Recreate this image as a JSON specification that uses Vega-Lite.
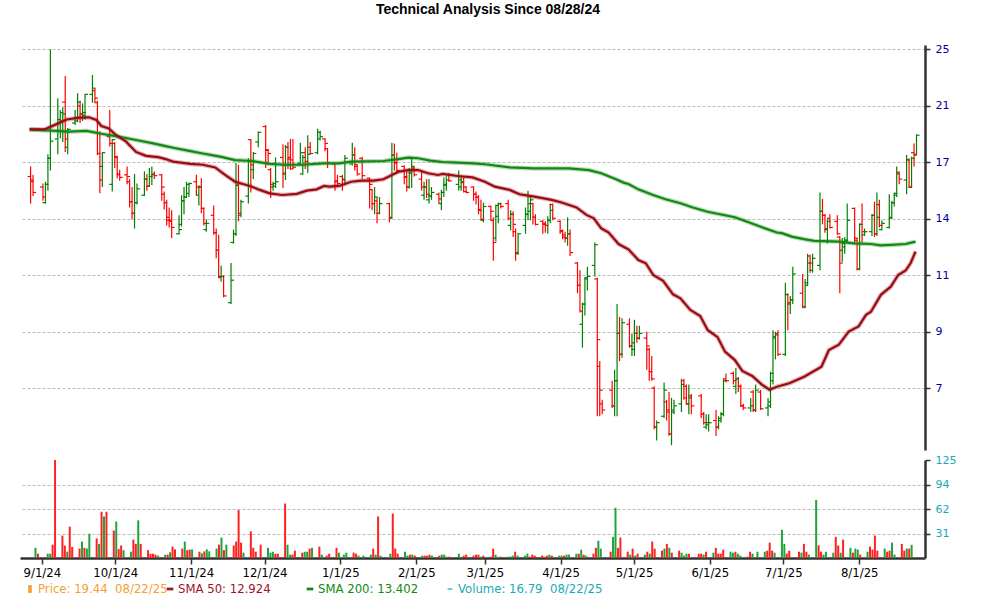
{
"$schema": "https://vega.github.io/schema/vega-lite/v6.json",
"padding": {"left": 20, "top": 3, "right": 0, "bottom": 0},
"background": "white",
"title": {"text": "Technical Analysis Since 08/28/24", "font": "Liberation Sans", "fontSize": 14, "fontWeight": "bold", "color": "#000000", "anchor": "middle", "offset": 26},
"config": {"view": {"stroke": null}},
"spacing": 10,
"bounds": "flush",
"datasets": {
"ohlc": [
{"t":"2024-08-29","o":15.5,"h":16.1,"l":14.0,"c":15.2,"v":13,"vd":"u"},
{"t":"2024-08-30","o":15.3,"h":15.6,"l":14.4,"c":14.6,"v":5.5,"vd":"d"},
{"t":"2024-09-03","o":14.9,"h":15.1,"l":14.15,"c":14.35,"v":5.5,"vd":"u"},
{"t":"2024-09-04","o":14.05,"h":15.2,"l":14.0,"c":15.05,"v":5.5,"vd":"u"},
{"t":"2024-09-05","o":15.05,"h":16.85,"l":14.7,"c":16.6,"v":17,"vd":"d"},
{"t":"2024-09-06","o":16.6,"h":25.0,"l":15.85,"c":17.7,"v":125,"vd":"d"},
{"t":"2024-09-09","o":17.85,"h":20.8,"l":16.85,"c":19.2,"v":28.6,"vd":"d"},
{"t":"2024-09-10","o":19.2,"h":19.9,"l":17.9,"c":19.7,"v":15.8,"vd":"d"},
{"t":"2024-09-11","o":19.1,"h":20.1,"l":17.65,"c":19.6,"v":8.1,"vd":"u"},
{"t":"2024-09-12","o":20.5,"h":22.6,"l":17.0,"c":17.85,"v":40,"vd":"d"},
{"t":"2024-09-13","o":17.3,"h":18.6,"l":16.85,"c":18.5,"v":14,"vd":"d"},
{"t":"2024-09-16","o":18.95,"h":19.9,"l":18.8,"c":19.3,"v":12,"vd":"d"},
{"t":"2024-09-17","o":19.1,"h":21.2,"l":19.0,"c":20.5,"v":21,"vd":"u"},
{"t":"2024-09-18","o":20.2,"h":20.6,"l":18.95,"c":19.6,"v":13,"vd":"d"},
{"t":"2024-09-19","o":19.6,"h":20.4,"l":19.1,"c":19.7,"v":12,"vd":"u"},
{"t":"2024-09-20","o":19.5,"h":21.15,"l":19.2,"c":21.1,"v":31,"vd":"u"},
{"t":"2024-09-23","o":21.1,"h":22.7,"l":20.45,"c":21.6,"v":25,"vd":"d"},
{"t":"2024-09-24","o":21.4,"h":21.6,"l":20.45,"c":20.8,"v":18,"vd":"u"},
{"t":"2024-09-25","o":20.45,"h":20.6,"l":16.8,"c":16.9,"v":59,"vd":"d"},
{"t":"2024-09-26","o":16.9,"h":18.35,"l":14.55,"c":15.3,"v":53,"vd":"u"},
{"t":"2024-09-27","o":16.1,"h":17.0,"l":14.9,"c":16.95,"v":59,"vd":"d"},
{"t":"2024-09-30","o":18.0,"h":19.9,"l":17.35,"c":17.55,"v":35,"vd":"d"},
{"t":"2024-10-01","o":15.05,"h":17.85,"l":14.65,"c":17.8,"v":46.5,"vd":"u"},
{"t":"2024-10-02","o":17.55,"h":17.65,"l":16.0,"c":16.65,"v":11.5,"vd":"d"},
{"t":"2024-10-03","o":16.7,"h":16.75,"l":15.4,"c":15.6,"v":16,"vd":"d"},
{"t":"2024-10-04","o":15.65,"h":15.9,"l":15.25,"c":15.45,"v":10,"vd":"u"},
{"t":"2024-10-07","o":15.6,"h":16.1,"l":15.05,"c":15.5,"v":8,"vd":"u"},
{"t":"2024-10-08","o":15.2,"h":15.35,"l":13.8,"c":14.1,"v":23.5,"vd":"d"},
{"t":"2024-10-09","o":14.1,"h":14.9,"l":13.2,"c":13.5,"v":18,"vd":"d"},
{"t":"2024-10-10","o":13.5,"h":15.65,"l":12.75,"c":14.05,"v":48,"vd":"u"},
{"t":"2024-10-11","o":14.05,"h":15.1,"l":13.95,"c":14.8,"v":18,"vd":"d"},
{"t":"2024-10-14","o":14.45,"h":15.8,"l":14.4,"c":15.35,"v":10,"vd":"d"},
{"t":"2024-10-15","o":15.35,"h":15.65,"l":14.7,"c":14.95,"v":5.5,"vd":"d"},
{"t":"2024-10-16","o":14.95,"h":16.0,"l":14.9,"c":15.5,"v":5.5,"vd":"d"},
{"t":"2024-10-17","o":15.5,"h":16.1,"l":15.0,"c":15.65,"v":4.3,"vd":"d"},
{"t":"2024-10-18","o":15.6,"h":15.8,"l":15.35,"c":15.55,"v":3,"vd":"u"},
{"t":"2024-10-21","o":15.6,"h":15.65,"l":14.15,"c":14.9,"v":4.3,"vd":"u"},
{"t":"2024-10-22","o":14.5,"h":14.65,"l":13.7,"c":14.05,"v":4.3,"vd":"d"},
{"t":"2024-10-23","o":14.05,"h":14.2,"l":12.9,"c":13.15,"v":7.3,"vd":"u"},
{"t":"2024-10-24","o":13.3,"h":13.8,"l":12.8,"c":13.1,"v":14.5,"vd":"d"},
{"t":"2024-10-25","o":13.15,"h":13.65,"l":12.3,"c":12.8,"v":11,"vd":"d"},
{"t":"2024-10-28","o":12.5,"h":13.4,"l":12.45,"c":12.7,"v":12,"vd":"d"},
{"t":"2024-10-29","o":12.95,"h":14.45,"l":12.85,"c":14.15,"v":21,"vd":"u"},
{"t":"2024-10-30","o":14.15,"h":14.9,"l":13.45,"c":14.35,"v":10,"vd":"d"},
{"t":"2024-10-31","o":14.35,"h":15.2,"l":14.3,"c":15.05,"v":10.7,"vd":"d"},
{"t":"2024-11-01","o":14.55,"h":15.15,"l":14.35,"c":15.1,"v":11,"vd":"u"},
{"t":"2024-11-04","o":15.2,"h":15.6,"l":14.45,"c":14.9,"v":8,"vd":"d"},
{"t":"2024-11-05","o":14.45,"h":15.0,"l":13.9,"c":14.9,"v":6,"vd":"u"},
{"t":"2024-11-06","o":14.9,"h":15.4,"l":13.5,"c":13.75,"v":8.5,"vd":"d"},
{"t":"2024-11-07","o":13.75,"h":13.8,"l":12.9,"c":13.0,"v":11,"vd":"u"},
{"t":"2024-11-08","o":12.7,"h":13.2,"l":12.6,"c":13.0,"v":8.5,"vd":"u"},
{"t":"2024-11-11","o":13.4,"h":13.9,"l":12.45,"c":12.55,"v":12,"vd":"u"},
{"t":"2024-11-12","o":12.55,"h":12.75,"l":11.4,"c":11.75,"v":17,"vd":"d"},
{"t":"2024-11-13","o":11.75,"h":12.45,"l":10.6,"c":10.65,"v":26,"vd":"u"},
{"t":"2024-11-14","o":10.6,"h":11.1,"l":10.45,"c":10.65,"v":10,"vd":"d"},
{"t":"2024-11-15","o":10.65,"h":10.7,"l":9.85,"c":9.9,"v":17,"vd":"u"},
{"t":"2024-11-18","o":9.65,"h":11.2,"l":9.6,"c":10.5,"v":16,"vd":"d"},
{"t":"2024-11-19","o":12.1,"h":12.7,"l":12.05,"c":12.5,"v":21,"vd":"d"},
{"t":"2024-11-20","o":12.5,"h":16.3,"l":12.4,"c":15.0,"v":61,"vd":"d"},
{"t":"2024-11-21","o":15.0,"h":16.2,"l":13.1,"c":13.5,"v":19.6,"vd":"d"},
{"t":"2024-11-22","o":13.4,"h":14.2,"l":13.3,"c":14.1,"v":6.8,"vd":"u"},
{"t":"2024-11-25","o":14.4,"h":16.6,"l":14.0,"c":16.45,"v":34,"vd":"d"},
{"t":"2024-11-26","o":17.8,"h":17.85,"l":14.6,"c":16.2,"v":13,"vd":"d"},
{"t":"2024-11-27","o":15.9,"h":17.0,"l":15.35,"c":16.9,"v":8,"vd":"d"},
{"t":"2024-11-29","o":17.65,"h":18.35,"l":17.3,"c":18.3,"v":17,"vd":"d"},
{"t":"2024-12-02","o":18.7,"h":18.8,"l":16.0,"c":17.15,"v":13,"vd":"u"},
{"t":"2024-12-03","o":17.1,"h":17.15,"l":16.2,"c":16.9,"v":6.8,"vd":"u"},
{"t":"2024-12-04","o":15.9,"h":16.0,"l":14.3,"c":15.05,"v":8,"vd":"u"},
{"t":"2024-12-05","o":14.9,"h":15.2,"l":14.7,"c":15.1,"v":5.5,"vd":"d"},
{"t":"2024-12-06","o":14.95,"h":16.65,"l":14.85,"c":15.2,"v":5.5,"vd":"d"},
{"t":"2024-12-09","o":16.65,"h":17.5,"l":14.85,"c":15.7,"v":69.5,"vd":"d"},
{"t":"2024-12-10","o":15.65,"h":17.45,"l":15.3,"c":17.3,"v":17,"vd":"u"},
{"t":"2024-12-11","o":17.3,"h":17.65,"l":15.95,"c":16.65,"v":4.3,"vd":"u"},
{"t":"2024-12-12","o":16.55,"h":17.85,"l":15.9,"c":15.95,"v":4.3,"vd":"d"},
{"t":"2024-12-13","o":16.5,"h":17.85,"l":15.95,"c":16.05,"v":9.4,"vd":"d"},
{"t":"2024-12-16","o":16.3,"h":17.6,"l":16.15,"c":16.95,"v":6.8,"vd":"d"},
{"t":"2024-12-17","o":15.65,"h":16.8,"l":15.6,"c":16.65,"v":8,"vd":"u"},
{"t":"2024-12-18","o":16.95,"h":17.3,"l":15.95,"c":16.4,"v":8,"vd":"u"},
{"t":"2024-12-19","o":16.4,"h":18.1,"l":15.7,"c":16.85,"v":12,"vd":"d"},
{"t":"2024-12-20","o":17.3,"h":17.65,"l":16.85,"c":16.9,"v":13,"vd":"u"},
{"t":"2024-12-23","o":16.95,"h":18.55,"l":16.85,"c":18.3,"v":14.5,"vd":"d"},
{"t":"2024-12-24","o":17.85,"h":18.4,"l":17.75,"c":18.0,"v":4.3,"vd":"u"},
{"t":"2024-12-26","o":17.85,"h":17.9,"l":17.05,"c":17.55,"v":3,"vd":"d"},
{"t":"2024-12-27","o":17.2,"h":17.25,"l":16.0,"c":16.3,"v":5.5,"vd":"d"},
{"t":"2024-12-30","o":16.25,"h":16.3,"l":14.7,"c":15.25,"v":13,"vd":"d"},
{"t":"2024-12-31","o":15.2,"h":15.6,"l":14.9,"c":15.1,"v":6.8,"vd":"u"},
{"t":"2025-01-02","o":15.5,"h":15.6,"l":14.7,"c":15.3,"v":4.3,"vd":"u"},
{"t":"2025-01-03","o":15.35,"h":16.8,"l":15.0,"c":16.6,"v":6.8,"vd":"u"},
{"t":"2025-01-06","o":16.25,"h":17.6,"l":16.15,"c":16.8,"v":6.8,"vd":"d"},
{"t":"2025-01-07","o":16.8,"h":17.3,"l":15.85,"c":16.2,"v":5.5,"vd":"d"},
{"t":"2025-01-08","o":16.1,"h":16.2,"l":15.55,"c":15.65,"v":3,"vd":"u"},
{"t":"2025-01-10","o":16.6,"h":16.7,"l":15.35,"c":15.55,"v":3,"vd":"u"},
{"t":"2025-01-13","o":15.4,"h":15.45,"l":13.75,"c":15.05,"v":4.3,"vd":"u"},
{"t":"2025-01-14","o":14.75,"h":14.8,"l":13.65,"c":14.0,"v":12,"vd":"d"},
{"t":"2025-01-15","o":14.0,"h":14.9,"l":13.45,"c":14.35,"v":4.3,"vd":"u"},
{"t":"2025-01-16","o":14.15,"h":14.35,"l":13.0,"c":13.5,"v":53,"vd":"d"},
{"t":"2025-01-17","o":13.5,"h":14.35,"l":13.45,"c":14.0,"v":3,"vd":"u"},
{"t":"2025-01-21","o":14.0,"h":14.05,"l":13.05,"c":13.25,"v":5.5,"vd":"u"},
{"t":"2025-01-22","o":13.3,"h":17.6,"l":13.25,"c":16.8,"v":56.7,"vd":"d"},
{"t":"2025-01-23","o":16.8,"h":17.55,"l":15.85,"c":16.3,"v":12,"vd":"d"},
{"t":"2025-01-24","o":16.35,"h":16.95,"l":15.65,"c":15.85,"v":5.5,"vd":"d"},
{"t":"2025-01-27","o":16.1,"h":16.15,"l":15.05,"c":15.5,"v":8,"vd":"u"},
{"t":"2025-01-28","o":15.45,"h":15.9,"l":14.65,"c":14.9,"v":3,"vd":"u"},
{"t":"2025-01-29","o":14.9,"h":16.0,"l":14.8,"c":15.75,"v":4.3,"vd":"d"},
{"t":"2025-01-30","o":15.7,"h":16.7,"l":14.85,"c":16.1,"v":4.3,"vd":"u"},
{"t":"2025-01-31","o":16.0,"h":16.1,"l":15.5,"c":15.6,"v":3,"vd":"d"},
{"t":"2025-02-03","o":15.35,"h":15.85,"l":14.7,"c":14.9,"v":3,"vd":"u"},
{"t":"2025-02-04","o":14.45,"h":15.2,"l":14.2,"c":14.9,"v":3,"vd":"d"},
{"t":"2025-02-05","o":14.9,"h":15.35,"l":14.3,"c":14.5,"v":3,"vd":"d"},
{"t":"2025-02-06","o":14.2,"h":15.35,"l":14.0,"c":14.4,"v":4.3,"vd":"d"},
{"t":"2025-02-07","o":14.4,"h":14.9,"l":14.2,"c":14.6,"v":3,"vd":"u"},
{"t":"2025-02-10","o":14.5,"h":14.6,"l":14.0,"c":14.25,"v":3,"vd":"d"},
{"t":"2025-02-11","o":14.0,"h":14.75,"l":13.65,"c":14.6,"v":4.3,"vd":"u"},
{"t":"2025-02-12","o":14.6,"h":15.45,"l":14.35,"c":15.05,"v":4.3,"vd":"u"},
{"t":"2025-02-13","o":15.0,"h":15.5,"l":14.7,"c":15.3,"v":1.7,"vd":"u"},
{"t":"2025-02-14","o":15.6,"h":15.7,"l":15.2,"c":15.25,"v":1.7,"vd":"d"},
{"t":"2025-02-18","o":15.05,"h":15.85,"l":14.7,"c":15.3,"v":5.5,"vd":"u"},
{"t":"2025-02-19","o":14.9,"h":15.55,"l":14.7,"c":15.2,"v":1.5,"vd":"u"},
{"t":"2025-02-20","o":15.15,"h":15.45,"l":14.6,"c":14.65,"v":3,"vd":"d"},
{"t":"2025-02-21","o":14.9,"h":14.95,"l":14.55,"c":14.6,"v":4.3,"vd":"d"},
{"t":"2025-02-24","o":14.9,"h":14.95,"l":14.15,"c":14.5,"v":3,"vd":"d"},
{"t":"2025-02-25","o":14.5,"h":14.65,"l":13.95,"c":14.35,"v":4.3,"vd":"d"},
{"t":"2025-02-26","o":14.35,"h":14.45,"l":13.45,"c":13.65,"v":4.3,"vd":"d"},
{"t":"2025-02-27","o":13.7,"h":14.2,"l":13.15,"c":13.2,"v":1.7,"vd":"u"},
{"t":"2025-02-28","o":13.15,"h":14.05,"l":13.05,"c":13.85,"v":3,"vd":"d"},
{"t":"2025-03-03","o":13.85,"h":13.9,"l":13.15,"c":13.6,"v":1.7,"vd":"d"},
{"t":"2025-03-04","o":13.15,"h":13.3,"l":11.3,"c":12.1,"v":12,"vd":"d"},
{"t":"2025-03-05","o":12.3,"h":13.95,"l":12.15,"c":13.9,"v":4.3,"vd":"u"},
{"t":"2025-03-06","o":13.35,"h":14.05,"l":13.0,"c":14.0,"v":1.5,"vd":"u"},
{"t":"2025-03-07","o":14.0,"h":14.05,"l":13.75,"c":13.85,"v":1.7,"vd":"d"},
{"t":"2025-03-10","o":14.0,"h":14.2,"l":13.15,"c":13.25,"v":1.7,"vd":"u"},
{"t":"2025-03-11","o":12.9,"h":13.65,"l":12.65,"c":13.45,"v":1.7,"vd":"u"},
{"t":"2025-03-12","o":13.45,"h":13.6,"l":12.35,"c":12.95,"v":3,"vd":"u"},
{"t":"2025-03-13","o":12.6,"h":12.75,"l":11.3,"c":11.6,"v":8,"vd":"d"},
{"t":"2025-03-14","o":11.65,"h":12.55,"l":11.55,"c":12.5,"v":3,"vd":"u"},
{"t":"2025-03-17","o":12.9,"h":13.8,"l":12.5,"c":13.45,"v":3,"vd":"u"},
{"t":"2025-03-18","o":13.45,"h":14.7,"l":13.15,"c":14.0,"v":5.5,"vd":"u"},
{"t":"2025-03-19","o":13.6,"h":14.4,"l":13.15,"c":14.2,"v":1.7,"vd":"d"},
{"t":"2025-03-20","o":14.0,"h":14.05,"l":12.95,"c":13.3,"v":4.3,"vd":"d"},
{"t":"2025-03-21","o":13.3,"h":13.45,"l":12.9,"c":12.95,"v":3,"vd":"d"},
{"t":"2025-03-24","o":13.1,"h":13.15,"l":12.5,"c":12.95,"v":3,"vd":"d"},
{"t":"2025-03-25","o":13.0,"h":13.1,"l":12.55,"c":12.9,"v":1.7,"vd":"d"},
{"t":"2025-03-26","o":12.9,"h":13.35,"l":12.5,"c":13.15,"v":3,"vd":"d"},
{"t":"2025-03-27","o":13.15,"h":14.0,"l":13.0,"c":13.65,"v":4.3,"vd":"u"},
{"t":"2025-03-28","o":13.95,"h":14.0,"l":13.15,"c":13.25,"v":3,"vd":"d"},
{"t":"2025-03-31","o":13.1,"h":13.15,"l":12.5,"c":12.65,"v":3,"vd":"u"},
{"t":"2025-04-01","o":12.6,"h":12.7,"l":12.25,"c":12.35,"v":3,"vd":"u"},
{"t":"2025-04-02","o":12.45,"h":12.6,"l":12.1,"c":12.3,"v":3,"vd":"d"},
{"t":"2025-04-03","o":12.3,"h":13.3,"l":11.95,"c":12.5,"v":4.3,"vd":"u"},
{"t":"2025-04-04","o":12.5,"h":12.7,"l":11.5,"c":11.65,"v":4.3,"vd":"u"},
{"t":"2025-04-07","o":11.2,"h":11.25,"l":10.0,"c":10.3,"v":5.5,"vd":"u"},
{"t":"2025-04-08","o":10.3,"h":10.9,"l":9.3,"c":9.35,"v":5.5,"vd":"d"},
{"t":"2025-04-09","o":8.9,"h":9.65,"l":8.15,"c":9.6,"v":10.7,"vd":"u"},
{"t":"2025-04-10","o":9.6,"h":10.6,"l":9.2,"c":10.55,"v":4.3,"vd":"d"},
{"t":"2025-04-11","o":10.6,"h":11.05,"l":10.1,"c":10.65,"v":3,"vd":"u"},
{"t":"2025-04-14","o":11.1,"h":12.1,"l":10.65,"c":12.0,"v":5.5,"vd":"d"},
{"t":"2025-04-15","o":10.55,"h":10.6,"l":6.3,"c":8.4,"v":13,"vd":"d"},
{"t":"2025-04-16","o":7.6,"h":7.75,"l":6.3,"c":6.95,"v":22,"vd":"u"},
{"t":"2025-04-17","o":6.6,"h":6.7,"l":6.35,"c":6.45,"v":12,"vd":"u"},
{"t":"2025-04-21","o":6.95,"h":7.2,"l":6.5,"c":6.55,"v":8,"vd":"d"},
{"t":"2025-04-22","o":6.55,"h":7.5,"l":6.3,"c":7.2,"v":27,"vd":"u"},
{"t":"2025-04-23","o":7.2,"h":9.6,"l":6.3,"c":8.6,"v":64,"vd":"u"},
{"t":"2025-04-24","o":8.6,"h":9.15,"l":7.75,"c":7.95,"v":13,"vd":"d"},
{"t":"2025-04-25","o":7.95,"h":9.1,"l":7.85,"c":8.95,"v":26,"vd":"d"},
{"t":"2025-04-28","o":8.9,"h":9.1,"l":8.15,"c":8.2,"v":8,"vd":"d"},
{"t":"2025-04-29","o":8.2,"h":8.6,"l":7.9,"c":8.3,"v":4.3,"vd":"u"},
{"t":"2025-04-30","o":8.1,"h":9.05,"l":7.9,"c":8.6,"v":12,"vd":"d"},
{"t":"2025-05-01","o":8.6,"h":8.85,"l":8.3,"c":8.45,"v":3,"vd":"u"},
{"t":"2025-05-02","o":8.45,"h":8.85,"l":8.4,"c":8.6,"v":5.5,"vd":"d"},
{"t":"2025-05-05","o":8.45,"h":8.65,"l":7.5,"c":8.2,"v":4.3,"vd":"u"},
{"t":"2025-05-06","o":8.1,"h":8.15,"l":7.2,"c":7.45,"v":8,"vd":"d"},
{"t":"2025-05-07","o":7.45,"h":7.9,"l":7.2,"c":7.25,"v":5.5,"vd":"u"},
{"t":"2025-05-08","o":7.0,"h":7.05,"l":6.0,"c":6.05,"v":21,"vd":"d"},
{"t":"2025-05-09","o":6.05,"h":6.2,"l":5.75,"c":6.15,"v":12,"vd":"d"},
{"t":"2025-05-12","o":6.3,"h":7.15,"l":6.25,"c":6.95,"v":9.4,"vd":"d"},
{"t":"2025-05-13","o":6.65,"h":6.7,"l":6.2,"c":6.4,"v":12,"vd":"u"},
{"t":"2025-05-14","o":6.45,"h":6.9,"l":5.85,"c":5.9,"v":18,"vd":"d"},
{"t":"2025-05-15","o":5.9,"h":6.75,"l":5.65,"c":6.4,"v":13,"vd":"u"},
{"t":"2025-05-16","o":6.45,"h":6.7,"l":6.35,"c":6.55,"v":6.8,"vd":"d"},
{"t":"2025-05-19","o":6.6,"h":7.25,"l":6.4,"c":7.1,"v":9.4,"vd":"d"},
{"t":"2025-05-20","o":7.2,"h":7.25,"l":6.7,"c":6.75,"v":6.8,"vd":"u"},
{"t":"2025-05-21","o":7.05,"h":7.1,"l":6.58,"c":6.6,"v":3,"vd":"u"},
{"t":"2025-05-22","o":6.6,"h":7.1,"l":6.35,"c":6.75,"v":5.5,"vd":"u"},
{"t":"2025-05-23","o":6.8,"h":6.85,"l":6.35,"c":6.55,"v":5.5,"vd":"d"},
{"t":"2025-05-27","o":6.8,"h":6.85,"l":6.25,"c":6.35,"v":5.5,"vd":"d"},
{"t":"2025-05-28","o":6.35,"h":6.4,"l":6.1,"c":6.15,"v":5.5,"vd":"d"},
{"t":"2025-05-29","o":6.05,"h":6.35,"l":6.0,"c":6.15,"v":4.3,"vd":"u"},
{"t":"2025-05-30","o":6.1,"h":6.35,"l":5.95,"c":6.15,"v":8,"vd":"d"},
{"t":"2025-06-02","o":6.2,"h":6.45,"l":5.85,"c":6.05,"v":6.8,"vd":"u"},
{"t":"2025-06-03","o":6.05,"h":6.3,"l":6.0,"c":6.25,"v":13,"vd":"d"},
{"t":"2025-06-04","o":6.2,"h":6.4,"l":6.15,"c":6.35,"v":5.5,"vd":"d"},
{"t":"2025-06-05","o":6.35,"h":7.25,"l":6.3,"c":7.2,"v":5.5,"vd":"d"},
{"t":"2025-06-06","o":7.25,"h":7.4,"l":7.15,"c":7.2,"v":10.7,"vd":"d"},
{"t":"2025-06-09","o":7.4,"h":7.45,"l":7.1,"c":7.2,"v":8,"vd":"u"},
{"t":"2025-06-10","o":7.05,"h":7.55,"l":6.85,"c":7.25,"v":6.8,"vd":"u"},
{"t":"2025-06-11","o":7.25,"h":7.3,"l":6.9,"c":7.05,"v":8,"vd":"d"},
{"t":"2025-06-12","o":7.05,"h":7.1,"l":6.52,"c":6.55,"v":5.5,"vd":"u"},
{"t":"2025-06-13","o":6.55,"h":6.6,"l":6.45,"c":6.5,"v":3,"vd":"u"},
{"t":"2025-06-16","o":6.5,"h":6.75,"l":6.4,"c":6.55,"v":1.7,"vd":"d"},
{"t":"2025-06-17","o":6.9,"h":6.95,"l":6.4,"c":6.45,"v":8,"vd":"d"},
{"t":"2025-06-18","o":6.45,"h":7.1,"l":6.4,"c":6.95,"v":5.5,"vd":"u"},
{"t":"2025-06-20","o":6.9,"h":6.95,"l":6.45,"c":6.48,"v":8,"vd":"u"},
{"t":"2025-06-23","o":6.5,"h":6.75,"l":6.3,"c":6.65,"v":8,"vd":"u"},
{"t":"2025-06-24","o":6.55,"h":7.45,"l":6.5,"c":7.4,"v":9.4,"vd":"d"},
{"t":"2025-06-25","o":7.2,"h":8.7,"l":7.1,"c":8.5,"v":19.6,"vd":"d"},
{"t":"2025-06-26","o":8.45,"h":8.65,"l":7.8,"c":8.55,"v":9.4,"vd":"d"},
{"t":"2025-06-27","o":8.6,"h":8.7,"l":7.9,"c":7.95,"v":6.8,"vd":"u"},
{"t":"2025-06-30","o":7.95,"h":10.4,"l":7.9,"c":9.95,"v":36,"vd":"u"},
{"t":"2025-07-01","o":9.95,"h":10.0,"l":8.7,"c":9.65,"v":18,"vd":"u"},
{"t":"2025-07-02","o":9.6,"h":9.9,"l":9.25,"c":9.75,"v":5.5,"vd":"d"},
{"t":"2025-07-03","o":9.75,"h":11.05,"l":9.6,"c":10.75,"v":9.4,"vd":"d"},
{"t":"2025-07-07","o":10.0,"h":10.75,"l":9.45,"c":9.5,"v":8,"vd":"d"},
{"t":"2025-07-08","o":9.5,"h":10.55,"l":9.45,"c":10.3,"v":6.8,"vd":"u"},
{"t":"2025-07-09","o":10.4,"h":11.6,"l":10.3,"c":11.2,"v":18,"vd":"d"},
{"t":"2025-07-10","o":11.5,"h":11.55,"l":10.8,"c":11.2,"v":8,"vd":"d"},
{"t":"2025-07-11","o":10.9,"h":11.6,"l":10.8,"c":11.4,"v":4.3,"vd":"u"},
{"t":"2025-07-14","o":11.1,"h":14.6,"l":10.9,"c":13.6,"v":74,"vd":"u"},
{"t":"2025-07-15","o":13.6,"h":14.25,"l":12.95,"c":13.4,"v":16,"vd":"d"},
{"t":"2025-07-16","o":13.4,"h":13.45,"l":12.55,"c":12.75,"v":8,"vd":"d"},
{"t":"2025-07-17","o":12.7,"h":13.2,"l":12.05,"c":13.1,"v":4.3,"vd":"u"},
{"t":"2025-07-18","o":13.25,"h":13.45,"l":12.75,"c":12.8,"v":8,"vd":"u"},
{"t":"2025-07-21","o":13.1,"h":13.4,"l":12.45,"c":12.5,"v":6.8,"vd":"u"},
{"t":"2025-07-22","o":12.35,"h":12.4,"l":10.0,"c":11.2,"v":27,"vd":"d"},
{"t":"2025-07-23","o":11.75,"h":12.3,"l":11.25,"c":11.9,"v":16,"vd":"d"},
{"t":"2025-07-24","o":12.05,"h":12.35,"l":11.6,"c":12.2,"v":6.8,"vd":"u"},
{"t":"2025-07-25","o":12.2,"h":14.0,"l":12.1,"c":13.15,"v":23.5,"vd":"d"},
{"t":"2025-07-28","o":13.75,"h":13.8,"l":12.05,"c":12.3,"v":13,"vd":"u"},
{"t":"2025-07-29","o":12.2,"h":12.3,"l":10.9,"c":10.95,"v":6.8,"vd":"d"},
{"t":"2025-07-30","o":10.95,"h":13.0,"l":10.9,"c":12.95,"v":12,"vd":"u"},
{"t":"2025-07-31","o":12.95,"h":14.0,"l":12.1,"c":12.6,"v":10.7,"vd":"u"},
{"t":"2025-08-01","o":12.45,"h":12.75,"l":12.4,"c":12.6,"v":4.3,"vd":"d"},
{"t":"2025-08-04","o":12.6,"h":13.45,"l":12.4,"c":13.4,"v":8,"vd":"u"},
{"t":"2025-08-05","o":13.4,"h":14.1,"l":12.35,"c":12.5,"v":14.5,"vd":"d"},
{"t":"2025-08-06","o":12.5,"h":14.6,"l":12.4,"c":13.3,"v":10.7,"vd":"d"},
{"t":"2025-08-07","o":13.95,"h":14.2,"l":12.8,"c":12.9,"v":28.6,"vd":"d"},
{"t":"2025-08-08","o":12.7,"h":13.15,"l":12.65,"c":13.0,"v":9.4,"vd":"d"},
{"t":"2025-08-11","o":12.8,"h":14.5,"l":12.75,"c":13.25,"v":12,"vd":"u"},
{"t":"2025-08-12","o":13.3,"h":14.15,"l":13.25,"c":14.05,"v":8,"vd":"d"},
{"t":"2025-08-13","o":14.05,"h":14.6,"l":13.85,"c":14.55,"v":9.4,"vd":"d"},
{"t":"2025-08-14","o":14.45,"h":16.1,"l":14.35,"c":15.65,"v":19.6,"vd":"u"},
{"t":"2025-08-15","o":15.75,"h":15.8,"l":15.05,"c":15.35,"v":4.3,"vd":"u"},
{"t":"2025-08-18","o":15.3,"h":16.8,"l":14.5,"c":16.5,"v":18,"vd":"d"},
{"t":"2025-08-19","o":16.5,"h":16.6,"l":14.85,"c":14.9,"v":9.4,"vd":"d"},
{"t":"2025-08-20","o":14.9,"h":16.7,"l":14.85,"c":16.6,"v":12,"vd":"u"},
{"t":"2025-08-21","o":16.95,"h":17.55,"l":16.1,"c":16.8,"v":12,"vd":"d"},
{"t":"2025-08-22","o":16.85,"h":18.15,"l":16.8,"c":18.1,"v":16.8,"vd":"u"}
],
"sma200": [
{"t":"2024-08-29","v":18.5},{"t":"2024-09-14","v":18.34},{"t":"2024-09-21","v":18.4},{"t":"2024-09-27","v":18.2},{"t":"2024-10-04","v":18.0},{"t":"2024-10-11","v":17.78},{"t":"2024-10-18","v":17.55},{"t":"2024-10-23","v":17.37},{"t":"2024-10-26","v":17.27},{"t":"2024-11-01","v":17.08},{"t":"2024-11-07","v":16.9},{"t":"2024-11-14","v":16.7},{"t":"2024-11-20","v":16.49},{"t":"2024-11-27","v":16.43},{"t":"2024-12-04","v":16.25},{"t":"2024-12-10","v":16.2},{"t":"2024-12-17","v":16.2},{"t":"2024-12-26","v":16.29},{"t":"2025-01-01","v":16.29},{"t":"2025-01-06","v":16.39},{"t":"2025-01-19","v":16.43},{"t":"2025-01-25","v":16.55},{"t":"2025-01-29","v":16.64},{"t":"2025-02-02","v":16.6},{"t":"2025-02-07","v":16.45},{"t":"2025-02-12","v":16.37},{"t":"2025-02-18","v":16.33},{"t":"2025-02-24","v":16.29},{"t":"2025-03-01","v":16.23},{"t":"2025-03-11","v":16.04},{"t":"2025-03-21","v":15.98},{"t":"2025-04-04","v":15.98},{"t":"2025-04-12","v":15.88},{"t":"2025-04-17","v":15.69},{"t":"2025-04-23","v":15.34},{"t":"2025-04-26","v":15.15},{"t":"2025-04-28","v":15.07},{"t":"2025-05-02","v":14.77},{"t":"2025-05-08","v":14.46},{"t":"2025-05-13","v":14.23},{"t":"2025-05-19","v":14.02},{"t":"2025-05-24","v":13.8},{"t":"2025-05-30","v":13.58},{"t":"2025-06-04","v":13.45},{"t":"2025-06-10","v":13.3},{"t":"2025-06-15","v":13.08},{"t":"2025-06-21","v":12.81},{"t":"2025-06-27","v":12.56},{"t":"2025-06-29","v":12.53},{"t":"2025-07-03","v":12.37},{"t":"2025-07-08","v":12.25},{"t":"2025-07-12","v":12.17},{"t":"2025-07-22","v":12.14},{"t":"2025-07-28","v":12.06},{"t":"2025-08-04","v":12.03},{"t":"2025-08-08","v":11.97},{"t":"2025-08-12","v":11.99},{"t":"2025-08-18","v":12.03},{"t":"2025-08-22","v":12.14}
],
"sma50": [
{"t":"2024-08-29","v":18.5},{"t":"2024-09-04","v":18.5},{"t":"2024-09-08","v":18.8},{"t":"2024-09-13","v":19.2},{"t":"2024-09-18","v":19.33},{"t":"2024-09-22","v":19.36},{"t":"2024-09-25","v":19.17},{"t":"2024-09-27","v":18.74},{"t":"2024-09-30","v":18.57},{"t":"2024-10-03","v":18.1},{"t":"2024-10-07","v":17.67},{"t":"2024-10-11","v":17.0},{"t":"2024-10-15","v":16.75},{"t":"2024-10-20","v":16.67},{"t":"2024-10-23","v":16.55},{"t":"2024-10-26","v":16.39},{"t":"2024-11-02","v":16.25},{"t":"2024-11-07","v":16.2},{"t":"2024-11-12","v":16.04},{"t":"2024-11-16","v":15.59},{"t":"2024-11-20","v":15.2},{"t":"2024-11-26","v":14.96},{"t":"2024-11-30","v":14.74},{"t":"2024-12-04","v":14.55},{"t":"2024-12-09","v":14.46},{"t":"2024-12-15","v":14.52},{"t":"2024-12-19","v":14.7},{"t":"2024-12-23","v":14.77},{"t":"2024-12-26","v":14.96},{"t":"2024-12-28","v":14.92},{"t":"2025-01-01","v":14.96},{"t":"2025-01-06","v":15.2},{"t":"2025-01-10","v":15.26},{"t":"2025-01-15","v":15.26},{"t":"2025-01-19","v":15.34},{"t":"2025-01-25","v":15.78},{"t":"2025-01-29","v":15.88},{"t":"2025-02-02","v":15.88},{"t":"2025-02-06","v":15.69},{"t":"2025-02-10","v":15.59},{"t":"2025-02-12","v":15.65},{"t":"2025-02-18","v":15.53},{"t":"2025-02-24","v":15.45},{"t":"2025-03-01","v":15.2},{"t":"2025-03-05","v":14.92},{"t":"2025-03-11","v":14.74},{"t":"2025-03-15","v":14.5},{"t":"2025-03-21","v":14.37},{"t":"2025-03-28","v":14.2},{"t":"2025-04-01","v":14.06},{"t":"2025-04-07","v":13.8},{"t":"2025-04-11","v":13.42},{"t":"2025-04-14","v":13.25},{"t":"2025-04-17","v":12.76},{"t":"2025-04-20","v":12.56},{"t":"2025-04-24","v":12.03},{"t":"2025-04-26","v":11.91},{"t":"2025-04-28","v":11.79},{"t":"2025-05-02","v":11.33},{"t":"2025-05-05","v":11.19},{"t":"2025-05-08","v":10.71},{"t":"2025-05-12","v":10.48},{"t":"2025-05-16","v":9.96},{"t":"2025-05-19","v":9.81},{"t":"2025-05-23","v":9.39},{"t":"2025-05-27","v":9.18},{"t":"2025-05-30","v":8.71},{"t":"2025-06-03","v":8.48},{"t":"2025-06-06","v":8.03},{"t":"2025-06-10","v":7.78},{"t":"2025-06-13","v":7.47},{"t":"2025-06-17","v":7.33},{"t":"2025-06-21","v":7.09},{"t":"2025-06-24","v":6.96},{"t":"2025-06-27","v":7.04},{"t":"2025-07-02","v":7.13},{"t":"2025-07-08","v":7.31},{"t":"2025-07-15","v":7.59},{"t":"2025-07-18","v":8.08},{"t":"2025-07-22","v":8.24},{"t":"2025-07-26","v":8.66},{"t":"2025-07-30","v":8.83},{"t":"2025-08-02","v":9.22},{"t":"2025-08-04","v":9.33},{"t":"2025-08-08","v":9.94},{"t":"2025-08-12","v":10.25},{"t":"2025-08-15","v":10.71},{"t":"2025-08-18","v":10.89},{"t":"2025-08-20","v":11.19},{"t":"2025-08-22","v":11.69}
],
"legend": [
{"k":"Price","s":"Price: 19.44\u00a0 08/22/25"},
{"k":"SMA 50","s":"SMA 50: 12.924"},
{"k":"SMA 200","s":"SMA 200: 13.402"},
{"k":"Volume","s":"Volume: 16.79\u00a0 08/22/25"}
]
},
"vconcat": [
{
"width": 905, "height": 405,
"layer": [
{"data": {"name": "ohlc"},
 "mark": {"type": "rule", "strokeWidth": 1.2, "xOffset": 1},
 "encoding": {
  "x": {"field": "t", "type": "temporal", "axis": null,
        "scale": {"type": "utc", "domain": [{"year": 2024, "month": 8, "date": 25, "hours": 3, "utc": true}, {"year": 2025, "month": 8, "date": 25, "hours": 20, "utc": true}]}},
  "y": {"field": "l", "type": "quantitative",
        "scale": {"type": "log", "domain": [5.55, 25.4], "nice": false},
        "axis": {"orient": "right", "title": null, "values": [7, 8.6545, 10.7, 13.2295, 16.3568, 20.2232, 25],
                 "labelExpr": "'' + ceil(datum.value - 0.01)",
                 "grid": true, "gridDash": [3, 2], "gridColor": "#bbbbbb", "gridWidth": 1,
                 "domainColor": "#333333", "domainWidth": 2.5, "tickColor": "#333333", "tickSize": 5, "tickWidth": 1.5,
                 "labelFont": "DejaVu Sans", "labelFontSize": 11, "labelColor": "#000099", "labelPadding": 5}},
  "y2": {"field": "h"},
  "color": {"condition": {"test": "datum.c >= datum.o", "value": "#008000"}, "value": "#ff0000"}
 }},
{"data": {"name": "ohlc"},
 "mark": {"type": "rule", "strokeWidth": 1.2, "xOffset": -2, "x2Offset": 1},
 "encoding": {
  "x": {"field": "t", "type": "temporal"}, "x2": {"field": "t"},
  "y": {"field": "o", "type": "quantitative"},
  "color": {"condition": {"test": "datum.c >= datum.o", "value": "#008000"}, "value": "#ff0000"}
 }},
{"data": {"name": "ohlc"},
 "mark": {"type": "rule", "strokeWidth": 1.2, "xOffset": 1, "x2Offset": 4},
 "encoding": {
  "x": {"field": "t", "type": "temporal"}, "x2": {"field": "t"},
  "y": {"field": "c", "type": "quantitative"},
  "color": {"condition": {"test": "datum.c >= datum.o", "value": "#008000"}, "value": "#ff0000"}
 }},
{"data": {"name": "sma200"},
 "mark": {"type": "line", "color": "#1a8c1a", "strokeWidth": 4.5, "opacity": 0.3},
 "encoding": {"x": {"field": "t", "type": "temporal"}, "y": {"field": "v", "type": "quantitative"}}},
{"data": {"name": "sma50"},
 "mark": {"type": "line", "color": "#a01018", "strokeWidth": 4.5, "opacity": 0.3},
 "encoding": {"x": {"field": "t", "type": "temporal"}, "y": {"field": "v", "type": "quantitative"}}},
{"data": {"name": "sma200"},
 "mark": {"type": "line", "color": "#128812", "strokeWidth": 2.2},
 "encoding": {"x": {"field": "t", "type": "temporal"}, "y": {"field": "v", "type": "quantitative"}}},
{"data": {"name": "sma50"},
 "mark": {"type": "line", "color": "#9c0a12", "strokeWidth": 2.2},
 "encoding": {"x": {"field": "t", "type": "temporal"}, "y": {"field": "v", "type": "quantitative"}}}
]
},
{
"width": 905, "height": 98,
"data": {"name": "ohlc"},
"mark": {"type": "bar", "size": 2, "xOffset": 1},
"encoding": {
 "x": {"field": "t", "type": "temporal",
       "scale": {"type": "utc", "domain": [{"year": 2024, "month": 8, "date": 25, "hours": 3, "utc": true}, {"year": 2025, "month": 8, "date": 25, "hours": 20, "utc": true}]},
       "axis": {"orient": "bottom", "title": null, "grid": false,
                "values": [
                 {"year": 2024, "month": 9, "date": 1, "utc": true}, {"year": 2024, "month": 10, "date": 1, "utc": true},
                 {"year": 2024, "month": 11, "date": 1, "utc": true}, {"year": 2024, "month": 12, "date": 1, "utc": true},
                 {"year": 2025, "month": 1, "date": 1, "utc": true}, {"year": 2025, "month": 2, "date": 1, "utc": true},
                 {"year": 2025, "month": 3, "date": 1, "utc": true}, {"year": 2025, "month": 4, "date": 1, "utc": true},
                 {"year": 2025, "month": 5, "date": 1, "utc": true}, {"year": 2025, "month": 6, "date": 1, "utc": true},
                 {"year": 2025, "month": 7, "date": 1, "utc": true}, {"year": 2025, "month": 8, "date": 1, "utc": true}],
                "labelExpr": "utcFormat(datum.value, '%-m/%-d/%y')",
                "labelOverlap": false, "labelFlush": false,
                "domainColor": "#333333", "domainWidth": 2.5, "tickColor": "#333333", "tickSize": 6, "tickWidth": 1.5,
                "labelFont": "Liberation Sans Narrow, DejaVu Sans Condensed", "labelFontSize": 13, "labelColor": "#000000", "labelPadding": 2}},
 "y": {"field": "v", "type": "quantitative",
       "scale": {"domain": [0, 125], "nice": false},
       "axis": {"orient": "right", "title": null, "values": [31.25, 62.5, 93.75, 125],
                "labelExpr": "'' + floor(datum.value + 0.4)",
                "grid": true, "gridDash": [3, 2], "gridColor": "#bbbbbb",
                "gridOpacity": {"condition": {"test": "datum.value > 120", "value": 0}, "value": 1},
                "domainColor": "#333333", "domainWidth": 2.5, "tickColor": "#333333", "tickSize": 5, "tickWidth": 1.5,
                "labelFont": "DejaVu Sans", "labelFontSize": 11, "labelColor": "#19a9b9", "labelPadding": 5}},
 "color": {"condition": {"test": "datum.vd === 'u'", "value": "#1fa33a"}, "value": "#ff2020"}
}
},
{
"width": 420, "height": 36,
"data": {"name": "legend"},
"encoding": {
 "x": {"field": "k", "type": "nominal", "sort": null, "scale": {"type": "point", "padding": 0}, "axis": null},
 "color": {"field": "k", "type": "nominal", "legend": null,
           "scale": {"domain": ["Price", "SMA 50", "SMA 200", "Volume"], "range": ["#f5a033", "#a0102a", "#128812", "#19a9b9"]}}
},
"layer": [
 {"mark": {"type": "point", "filled": true, "opacity": 1, "size": 36, "xOffset": 10, "yOffset": 3},
  "encoding": {"shape": {"field": "k", "type": "nominal", "legend": null,
     "scale": {"domain": ["Price", "SMA 50", "SMA 200", "Volume"],
               "range": ["M-0.6,-1.3H0.6V1.3H-0.6Z", "M-1.1,-0.45H1.1V0.45H-1.1Z", "M-1.1,-0.45H1.1V0.45H-1.1Z", "M-0.8,-0.2H0.8V0.2H-0.8Z"]}}}},
 {"mark": {"type": "text", "align": "left", "baseline": "middle", "dx": 18, "dy": 3, "font": "Liberation Sans Narrow, DejaVu Sans Condensed", "fontSize": 13},
  "encoding": {"text": {"field": "s"}}}
]
}
]
}
